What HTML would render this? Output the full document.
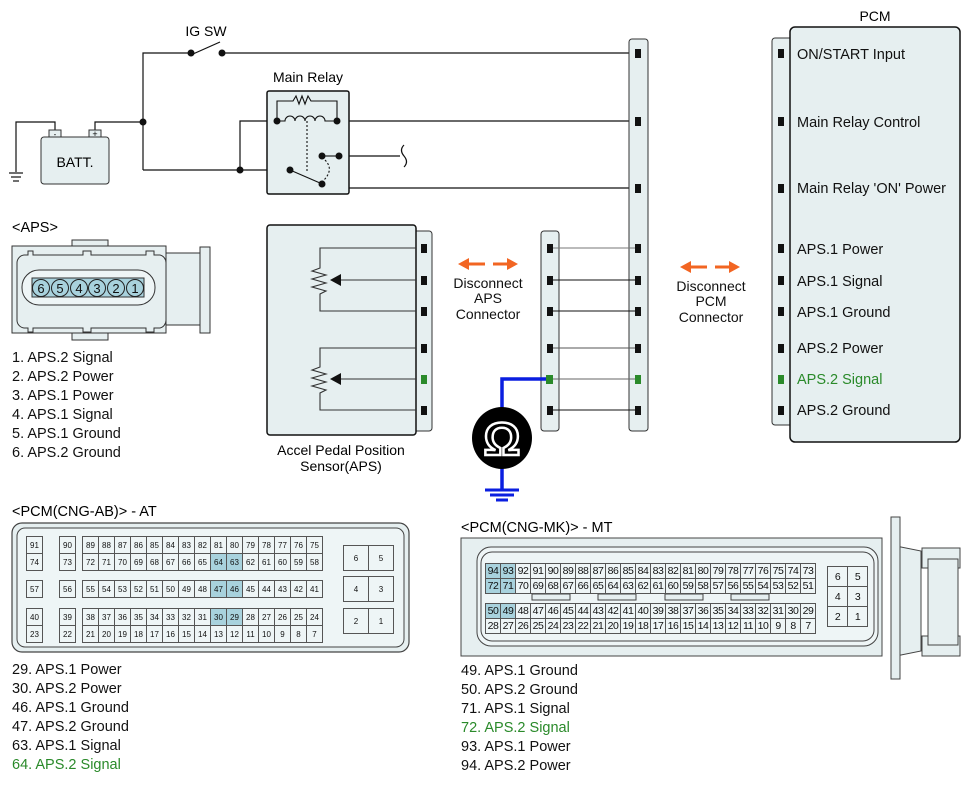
<!DOCTYPE html>
<html><head><meta charset="utf-8">
<style>
body{margin:0;width:971px;height:786px;background:#fff;position:relative;overflow:hidden;font-family:"Liberation Sans",sans-serif;}
svg{position:absolute;left:0;top:0}
table{position:absolute;border-collapse:collapse;table-layout:fixed;font-family:"Liberation Sans",sans-serif;color:#111}
td{border:1px solid #555;padding:0;text-align:center;background:#eef5f6;overflow:hidden;white-space:nowrap}
td.h{background:#a8d2dd}
.at td{font-size:8px;height:16px;width:15px}
.mt td{font-size:10.5px;height:14px;width:14px;letter-spacing:-0.5px}
.txt{position:absolute;font-size:14.5px;color:#111;white-space:nowrap;line-height:19px}
.g{color:#2a8a2a}
</style></head><body>
<svg width="971" height="786" viewBox="0 0 971 786" font-family="Liberation Sans, sans-serif">
<g stroke="#111" stroke-width="1.2" fill="none">
<polyline points="143,170 143,53 191,53"/>
<line x1="193" y1="54" x2="220" y2="42"/>
<line x1="222" y1="53" x2="637" y2="53"/>
<polyline points="55,137 55,122 16,122 16,172"/>
<polyline points="95,137 95,122 143,122"/>
<line x1="143" y1="170" x2="290" y2="170"/>
<polyline points="240,170 240,121 277,121"/>
<line x1="337" y1="121" x2="637" y2="121"/>
<line x1="337" y1="156" x2="400" y2="156"/>
<path d="M404,145 q-5,5 0,11 q5,6 0,11"/>
<polyline points="339,156 339,188 637,188"/>
</g>
<g stroke="#111" stroke-width="1.2"><line x1="9" y1="173" x2="23" y2="173"/><line x1="11" y1="177" x2="21" y2="177"/><line x1="13" y1="181" x2="19" y2="181"/></g>
<rect x="49" y="130" width="12" height="8" fill="#e6eff0" stroke="#333"/>
<rect x="89" y="130" width="12" height="8" fill="#e6eff0" stroke="#333"/>
<text x="55" y="137" font-size="8" text-anchor="middle">-</text>
<text x="95" y="137" font-size="9" text-anchor="middle">+</text>
<rect x="41" y="137" width="68" height="47" rx="3" fill="#e6eff0" stroke="#333"/>
<text x="75" y="167" font-size="14" text-anchor="middle">BATT.</text>
<rect x="267" y="91" width="82" height="103" rx="2" fill="#e6eff0" stroke="#111" stroke-width="1.5"/>
<g stroke="#111" stroke-width="1.1" fill="none">
<polyline points="277,121 277,101 293,101 296,96 299,104 302,96 305,104 308,96 311,101 337,101 337,121"/>
<path d="M277,121 h8 a5,5 0 0 1 10,0 a5,5 0 0 1 10,0 a5,5 0 0 1 10,0 a5,5 0 0 1 10,0 h12"/>
<line x1="307" y1="121" x2="307" y2="172" stroke-dasharray="2,2"/>
<path d="M325,160 q10,10 -3,22" stroke-dasharray="2,2"/>
<line x1="290" y1="170" x2="320" y2="183"/>
<line x1="322" y1="156" x2="337" y2="156"/>
</g>
<g fill="#111"><circle cx="143" cy="122" r="3.5"/><circle cx="191" cy="53" r="3.5"/><circle cx="222" cy="53" r="3.5"/><circle cx="240" cy="170" r="3.5"/><circle cx="277" cy="121" r="3.5"/><circle cx="337" cy="121" r="3.5"/><circle cx="322" cy="156" r="3.5"/><circle cx="339" cy="156" r="3.5"/><circle cx="290" cy="170" r="3.5"/><circle cx="322" cy="184" r="3.5"/></g>
<text x="206" y="36" font-size="14" text-anchor="middle">IG SW</text>
<text x="308" y="82" font-size="14" text-anchor="middle">Main Relay</text>
<text x="12" y="232" font-size="14.5">&lt;APS&gt;</text>
<g fill="#e6eff0" stroke="#333" stroke-width="1">
<rect x="72" y="240" width="36" height="8"/><rect x="72" y="332" width="36" height="8"/>
<rect x="12" y="246" width="154" height="87"/>
<rect x="166" y="253" width="34" height="72"/>
<rect x="200" y="247" width="10" height="86"/>
<path d="M28,251 h5 v4 h50 v-4 h8 v4 h55 v-4 h8 v4 h6 a8,8 0 0 1 6,8 v57 a8,8 0 0 1 -6,8 h-6 v4 h-8 v-4 h-55 v4 h-8 v-4 h-50 v4 h-5 v-4 h-4 a8,8 0 0 1 -7,-8 v-57 a8,8 0 0 1 7,-8 h4z"/>
<rect x="22" y="270" width="133" height="35" rx="17" fill="#eef5f6"/>
<rect x="32" y="278" width="112" height="19" fill="#a8d2dd"/>
</g>
<g fill="#a8d2dd" stroke="#222" stroke-width="1"><circle cx="41" cy="288" r="8.5"/><circle cx="60" cy="288" r="8.5"/><circle cx="79" cy="288" r="8.5"/><circle cx="97" cy="288" r="8.5"/><circle cx="116" cy="288" r="8.5"/><circle cx="135" cy="288" r="8.5"/></g>
<g font-size="13" text-anchor="middle" fill="#111"><text x="41" y="293">6</text><text x="60" y="293">5</text><text x="79" y="293">4</text><text x="97" y="293">3</text><text x="116" y="293">2</text><text x="135" y="293">1</text></g>
<rect x="412" y="231" width="20" height="200" rx="3" fill="#e6eff0" stroke="#333"/>
<rect x="267" y="225" width="149" height="210" rx="3" fill="#e6eff0" stroke="#111" stroke-width="1.5"/>
<g stroke="#333" stroke-width="1.1" fill="none">
<polyline points="416,248 320,248 320,268 312,271 326,275 312,279 326,283 312,287 326,291 320,294 320,311 416,311"/>
<line x1="416" y1="280" x2="340" y2="280"/>
<polyline points="416,348 320,348 320,367 312,370 326,374 312,378 326,382 312,386 326,390 320,393 320,410 416,410"/>
<line x1="416" y1="379" x2="340" y2="379"/>
</g>
<path d="M330,280 l11,-6 v12z M330,379 l11,-6 v12z" fill="#111"/>
<g fill="#111"><rect x="421" y="244" width="6" height="9"/><rect x="421" y="276" width="6" height="9"/><rect x="421" y="307" width="6" height="9"/><rect x="421" y="344" width="6" height="9"/><rect x="421" y="406" width="6" height="9"/></g>
<rect x="421" y="375" width="6" height="9" fill="#2a8a2a"/>
<text x="341" y="455" font-size="14" text-anchor="middle">Accel Pedal Position</text>
<text x="341" y="471" font-size="14" text-anchor="middle">Sensor(APS)</text>
<rect x="541" y="231" width="18" height="200" rx="3" fill="#e6eff0" stroke="#333"/>
<rect x="629" y="39" width="19" height="392" rx="3" fill="#e6eff0" stroke="#333"/>
<g stroke="#111" stroke-width="1.1"><line x1="550" y1="248" x2="638" y2="248" stroke="#777"/><line x1="550" y1="280" x2="638" y2="280"/><line x1="550" y1="311" x2="638" y2="311"/><line x1="550" y1="348" x2="638" y2="348" stroke="#555"/><line x1="550" y1="379" x2="638" y2="379" stroke="#666"/><line x1="550" y1="410" x2="638" y2="410"/></g>
<g fill="#111"><rect x="547" y="244" width="6" height="9"/><rect x="547" y="276" width="6" height="9"/><rect x="547" y="307" width="6" height="9"/><rect x="547" y="344" width="6" height="9"/><rect x="547" y="406" width="6" height="9"/>
<rect x="635" y="49" width="6" height="9"/><rect x="635" y="117" width="6" height="9"/><rect x="635" y="184" width="6" height="9"/><rect x="635" y="244" width="6" height="9"/><rect x="635" y="276" width="6" height="9"/><rect x="635" y="307" width="6" height="9"/><rect x="635" y="344" width="6" height="9"/><rect x="635" y="406" width="6" height="9"/></g>
<rect x="635" y="375" width="6" height="9" fill="#2a8a2a"/>
<polyline points="548,379 502,379 502,490" fill="none" stroke="#0a1ee0" stroke-width="3.5"/>
<rect x="546" y="375" width="7" height="9" fill="#2a8a2a"/>
<g stroke="#0a1ee0" stroke-width="3"><line x1="485" y1="490" x2="519" y2="490"/><line x1="490" y1="495" x2="514" y2="495"/><line x1="496" y1="500" x2="508" y2="500"/></g>
<ellipse cx="502" cy="438" rx="30" ry="31" fill="#000"/>
<text x="502" y="455" font-size="46" font-weight="bold" text-anchor="middle" fill="none" stroke="#fff" stroke-width="2.5">Ω</text>
<g stroke="#f26522" stroke-width="3" fill="#f26522">
<line x1="468" y1="264" x2="485" y2="264"/><line x1="493" y1="264" x2="510" y2="264"/>
<line x1="690" y1="267" x2="707" y2="267"/><line x1="715" y1="267" x2="732" y2="267"/></g>
<g fill="#f26522"><path d="M458,264 l11,-6 v12z M518,264 l-11,-6 v12z M680,267 l11,-6 v12z M740,267 l-11,-6 v12z"/></g>
<g font-size="14" text-anchor="middle" fill="#111">
<text x="488" y="288">Disconnect</text><text x="488" y="303">APS</text><text x="488" y="319">Connector</text>
<text x="711" y="291">Disconnect</text><text x="711" y="306">PCM</text><text x="711" y="322">Connector</text></g>
<text x="875" y="21" font-size="14" text-anchor="middle">PCM</text>
<rect x="772" y="38" width="22" height="387" rx="3" fill="#e6eff0" stroke="#333"/>
<rect x="790" y="27" width="170" height="415" rx="5" fill="#e6eff0" stroke="#111" stroke-width="1.5"/>
<g fill="#111"><rect x="778" y="49" width="6" height="9"/><rect x="778" y="117" width="6" height="9"/><rect x="778" y="184" width="6" height="9"/><rect x="778" y="244" width="6" height="9"/><rect x="778" y="276" width="6" height="9"/><rect x="778" y="307" width="6" height="9"/><rect x="778" y="344" width="6" height="9"/><rect x="778" y="406" width="6" height="9"/></g>
<rect x="778" y="375" width="6" height="9" fill="#2a8a2a"/>
<g font-size="14.5" fill="#111">
<text x="797" y="59">ON/START Input</text><text x="797" y="127">Main Relay Control</text><text x="797" y="193">Main Relay 'ON' Power</text>
<text x="797" y="254">APS.1 Power</text><text x="797" y="286">APS.1 Signal</text><text x="797" y="317">APS.1 Ground</text><text x="797" y="353">APS.2 Power</text><text x="797" y="384" fill="#2a8a2a">APS.2 Signal</text><text x="797" y="415">APS.2 Ground</text></g>
<text x="12" y="516" font-size="14.5">&lt;PCM(CNG-AB)&gt; - AT</text>
<rect x="12" y="523" width="397" height="129" rx="10" fill="#e6eff0" stroke="#444" stroke-width="1.2"/>
<rect x="17" y="528" width="387" height="119" rx="8" fill="#eef5f6" stroke="#444"/>
<text x="461" y="532" font-size="14.5">&lt;PCM(CNG-MK)&gt; - MT</text>
<g fill="#e6eff0" stroke="#444">
<path d="M891,545 l30,6 v100 l-30,6z"/>
<rect x="922" y="548" width="38" height="20"/><rect x="922" y="636" width="38" height="20"/>
<rect x="928" y="559" width="30" height="86"/>
<rect x="891" y="517" width="9" height="162"/>
<rect x="461" y="538" width="421" height="118"/>
<rect x="477" y="547" width="401" height="99" rx="14" fill="#eef5f6"/>
<rect x="481" y="552" width="393" height="89" rx="11" fill="#eef5f6"/>
<rect x="532" y="594" width="38" height="6"/><rect x="598" y="594" width="38" height="6"/><rect x="665" y="594" width="38" height="6"/><rect x="731" y="594" width="38" height="6"/>
</g>
</svg>

<table class="at" style="left:26px;top:536px"><tr><td>91</td></tr><tr><td>74</td></tr></table>
<table class="at" style="left:59px;top:536px"><tr><td>90</td></tr><tr><td>73</td></tr></table>
<table class="at" style="left:26px;top:580px"><tr><td>57</td></tr></table>
<table class="at" style="left:59px;top:580px"><tr><td>56</td></tr></table>
<table class="at" style="left:26px;top:608px"><tr><td>40</td></tr><tr><td>23</td></tr></table>
<table class="at" style="left:59px;top:608px"><tr><td>39</td></tr><tr><td>22</td></tr></table>
<table class="at" style="left:82px;top:536px"><tr><td>89</td><td>88</td><td>87</td><td>86</td><td>85</td><td>84</td><td>83</td><td>82</td><td>81</td><td>80</td><td>79</td><td>78</td><td>77</td><td>76</td><td>75</td></tr>
<tr><td>72</td><td>71</td><td>70</td><td>69</td><td>68</td><td>67</td><td>66</td><td>65</td><td class="h">64</td><td class="h">63</td><td>62</td><td>61</td><td>60</td><td>59</td><td>58</td></tr></table>
<table class="at" style="left:82px;top:580px"><tr><td>55</td><td>54</td><td>53</td><td>52</td><td>51</td><td>50</td><td>49</td><td>48</td><td class="h">47</td><td class="h">46</td><td>45</td><td>44</td><td>43</td><td>42</td><td>41</td></tr></table>
<table class="at" style="left:82px;top:608px"><tr><td>38</td><td>37</td><td>36</td><td>35</td><td>34</td><td>33</td><td>32</td><td>31</td><td class="h">30</td><td class="h">29</td><td>28</td><td>27</td><td>26</td><td>25</td><td>24</td></tr>
<tr><td>21</td><td>20</td><td>19</td><td>18</td><td>17</td><td>16</td><td>15</td><td>14</td><td>13</td><td>12</td><td>11</td><td>10</td><td>9</td><td>8</td><td>7</td></tr></table>
<table class="at" style="left:343px;top:545px"><tr><td style="width:24px;height:24px">6</td><td style="width:24px">5</td></tr></table>
<table class="at" style="left:343px;top:576px"><tr><td style="width:24px;height:24px">4</td><td style="width:24px">3</td></tr></table>
<table class="at" style="left:343px;top:608px"><tr><td style="width:24px;height:24px">2</td><td style="width:24px">1</td></tr></table>

<table class="mt" style="left:485px;top:563px"><tr><td class="h">94</td><td class="h">93</td><td>92</td><td>91</td><td>90</td><td>89</td><td>88</td><td>87</td><td>86</td><td>85</td><td>84</td><td>83</td><td>82</td><td>81</td><td>80</td><td>79</td><td>78</td><td>77</td><td>76</td><td>75</td><td>74</td><td>73</td></tr>
<tr><td class="h">72</td><td class="h">71</td><td>70</td><td>69</td><td>68</td><td>67</td><td>66</td><td>65</td><td>64</td><td>63</td><td>62</td><td>61</td><td>60</td><td>59</td><td>58</td><td>57</td><td>56</td><td>55</td><td>54</td><td>53</td><td>52</td><td>51</td></tr></table>
<table class="mt" style="left:485px;top:603px"><tr><td class="h">50</td><td class="h">49</td><td>48</td><td>47</td><td>46</td><td>45</td><td>44</td><td>43</td><td>42</td><td>41</td><td>40</td><td>39</td><td>38</td><td>37</td><td>36</td><td>35</td><td>34</td><td>33</td><td>32</td><td>31</td><td>30</td><td>29</td></tr>
<tr><td>28</td><td>27</td><td>26</td><td>25</td><td>24</td><td>23</td><td>22</td><td>21</td><td>20</td><td>19</td><td>18</td><td>17</td><td>16</td><td>15</td><td>14</td><td>13</td><td>12</td><td>11</td><td>10</td><td>9</td><td>8</td><td>7</td></tr></table>
<table class="mt" style="left:827px;top:566px"><tr><td style="width:19px;height:19px">6</td><td style="width:19px">5</td></tr><tr><td style="height:19px">4</td><td>3</td></tr><tr><td style="height:19px">2</td><td>1</td></tr></table>

<div class="txt" style="left:12px;top:349px">1. APS.2 Signal<br>2. APS.2 Power<br>3. APS.1 Power<br>4. APS.1 Signal<br>5. APS.1 Ground<br>6. APS.2 Ground</div>
<div class="txt" style="left:12px;top:661px">29. APS.1 Power<br>30. APS.2 Power<br>46. APS.1 Ground<br>47. APS.2 Ground<br>63. APS.1 Signal<br><span class="g">64. APS.2 Signal</span></div>
<div class="txt" style="left:461px;top:662px">49. APS.1 Ground<br>50. APS.2 Ground<br>71. APS.1 Signal<br><span class="g">72. APS.2 Signal</span><br>93. APS.1 Power<br>94. APS.2 Power</div>
</body></html>
